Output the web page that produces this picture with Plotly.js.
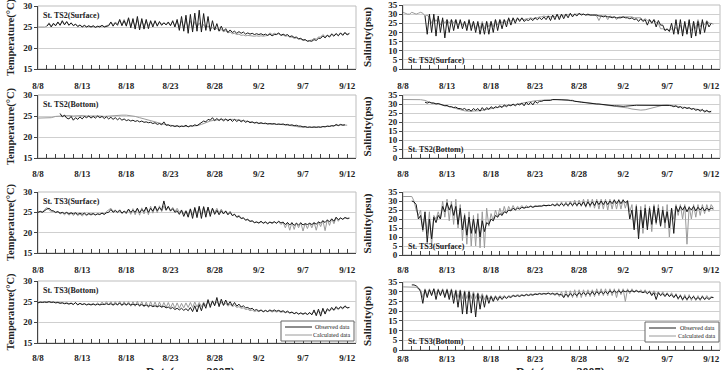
<!DOCTYPE html>
<html>
<head>
<meta charset="utf-8">
<script src="https://cdn.plot.ly/plotly-3.0.1.min.js"></script>
<style>html,body{margin:0;padding:0;background:#fff;}#chart{width:722px;height:370px;}</style>
</head>
<body>
<div id="chart"></div>
<script>
// ---------------- DATA ----------------
const panelTitles = ["St. TS2(Surface)", "St. TS2(Surface)", "St. TS2(Bottom)", "St. TS2(Bottom)",
                     "St. TS3(Surface)", "St. TS3(Surface)", "St. TS3(Bottom)", "St. TS3(Bottom)"];
const seriesNames = ["Observed data", "Calculated data"];
const xAxisTitle = "Date(year : 2007)";
const xTickDates = ["2007-08-08", "2007-09-13"];
const tempTicks = [15, 20, 25, 30];
const salTicks = [0, 5, 10, 15, 20, 25, 30, 35];

// start times of each series
const ts2SurfTempObsStart = "2007-08-09 00:00", ts2SurfTempCalStart = "2007-08-08 00:00";
const ts2SurfSalObsStart = "2007-08-10 12:00", ts2SurfSalCalStart = "2007-08-08 00:00";
const ts2BotTempObsStart = "2007-08-10 12:00", ts2BotTempCalStart = "2007-08-08 00:00";
const ts2BotSalObsStart = "2007-08-10 12:00", ts2BotSalCalStart = "2007-08-08 00:00";
const ts3SurfTempObsStart = "2007-08-08 00:00", ts3SurfTempCalStart = "2007-08-08 00:00";
const ts3SurfSalObsStart = "2007-08-09 00:00", ts3SurfSalCalStart = "2007-08-08 00:00";
const ts3BotTempObsStart = "2007-08-08 00:00", ts3BotTempCalStart = "2007-08-08 00:00";
const ts3BotSalObsStart = "2007-08-09 00:00", ts3BotSalCalStart = "2007-08-08 00:00";

// St. TS2 surface temperature (6-hourly)
const ts2SurfTempObs = [
25.2,25.8,25.0,25.9, 25.3,26.2,25.4,26.5, 25.5,26.3,25.4,26.0, 25.3,25.7,25.1,25.5,
25.0,25.4,25.0,25.3, 25.0,25.3,24.9,25.2, 25.0,25.4,25.0,25.2, 25.3,26.2,25.2,26.0,
25.4,26.8,25.3,26.5, 25.2,27.2,24.8,27.0, 24.5,27.5,24.3,27.0, 24.5,26.8,24.6,26.5,
25.0,26.5,25.2,26.3, 25.4,26.0,25.5,26.2, 25.3,26.5,25.0,26.8, 24.2,27.5,24.0,27.8,
23.5,28.0,23.8,28.3, 24.0,29.0,23.8,28.2, 24.2,27.5,24.0,26.5, 24.3,25.8,24.0,25.2,
24.0,24.6,23.7,24.3, 23.7,24.0,23.5,23.9, 23.5,23.8,23.3,23.6, 23.3,23.5,23.2,23.4,
23.2,23.4,23.1,23.3, 23.0,23.3,22.9,23.2, 23.2,23.6,23.0,23.3, 23.0,23.2,22.7,22.9,
22.5,22.6,22.2,22.3, 21.9,22.0,21.6,21.7, 21.6,22.0,21.8,22.3, 22.3,22.9,22.4,23.0,
22.6,23.3,22.8,23.4, 22.9,23.6,23.0,23.7, 23.1,23.5];
const ts2SurfTempCal = [
25.0,25.0,25.1,25.0, 25.2,26.0,25.3,25.6, 25.4,26.0,25.5,26.3, 25.6,26.2,25.5,25.9,
25.4,25.6,25.2,25.4, 25.1,25.3,25.1,25.2, 25.0,25.2,25.0,25.1, 25.1,25.3,25.1,25.3,
25.5,26.0,25.6,26.1, 25.8,26.5,25.6,26.8, 25.5,27.0,25.2,26.5, 25.0,26.8,24.8,26.5,
25.2,26.4,25.3,26.2, 25.5,26.2,25.6,26.0, 25.7,26.0,25.6,25.9, 25.5,26.2,25.3,26.3,
25.0,26.5,24.8,26.8, 24.8,26.5,24.6,26.3, 24.9,26.0,24.8,25.6, 24.7,25.3,24.5,24.9,
24.3,24.7,24.1,24.4, 23.9,24.1,23.6,23.8, 23.4,23.5,23.2,23.3, 23.0,23.1,22.9,23.0,
22.9,22.9,22.8,22.9, 22.8,22.9,22.8,22.9, 23.0,23.6,23.2,23.5, 23.3,23.4,23.0,23.1,
22.8,22.9,22.6,22.6, 22.3,22.4,22.1,22.1, 21.8,21.9,21.7,21.8, 21.9,22.3,22.1,22.6,
22.6,23.2,22.7,23.1, 22.8,23.4,23.0,23.5, 23.0,23.5,23.2,23.6, 23.3,23.4];

// St. TS2 surface salinity (6-hourly)
const ts2SurfSalObs = [
29,19,30,20, 30,18,29,20, 28,17,27,20, 27,21,27,22, 27,22,26,21, 27,21,26,20,
26,19,25,19, 26,19,26,20, 27,21,27,22, 27,23,28,24, 28,25,28,26, 28,26,27,26.5,
27.5,26.5,28,27, 28,27,28.5,27, 29,26.5,29.5,27, 30,27,30,27.5, 30,28,30.5,28.5,
30,29,30.5,29.5, 30,29.5,30,29.5, 29.5,29.5,29.5,29, 29,28.5,29,28.5, 28.5,28,28.5,28,
28,28,28.5,28, 28,27.5,28,27, 27.5,26,27.5,26, 27,24,27,25, 27,23,26.5,24,
24,21,22,20.5, 25,19,27,19, 27,18,26,19, 27,17,26,18, 26,19,27,20, 26,23,25];
const ts2SurfSalCal = [
31,30.5,30,30, 31,30.5,30,30.5, 31,30.5,29,29.5, 28,25,28,26, 28,24,27,25, 27,25,27,25,
27,24,26,24, 26,23,26,23, 26,22,25,22, 26,22,26,23, 26,23,27,24, 27,25,27,25.5,
27.5,26,27.5,26.5, 27.5,27,27.5,27, 27.5,27.5,28,27.5, 28,28,28.5,28.5, 29,28.5,29,28.5,
29,28.5,29.5,28.5, 29.5,29,30,29.5, 30,29.5,30,30, 30,30,30,29.5, 29.5,29.5,29.5,29.5,
29,26.5,29,29, 29,27,29,28.5, 28.5,27,28.5,28.5, 28.5,28.5,28.5,28.5, 28.5,28,28,28,
28,26.5,27.5,26.5, 27,25.5,27,25.5, 25,22,22,21.5, 21.5,21,22,21, 23,20,24,20,
25,20,26,21, 26,22,27,23, 26,24,26.5,25, 25,24.5];

// St. TS2 bottom temperature (obs 6-hourly, cal 12-hourly)
const ts2BotTempObs = [
25.6,24.8,25.2,24.5, 24.3,24.9,24.0,24.6, 24.2,24.8,24.3,24.9, 24.6,25.0,24.5,24.9,
24.5,25.0,24.6,24.9, 24.4,24.8,24.3,24.7, 24.2,24.6,24.1,24.5, 24.0,24.3,23.9,24.1,
23.8,24.0,23.7,23.9, 23.6,23.8,23.5,23.6, 23.4,23.5,23.2,23.4, 23.0,23.2,22.9,23.6,
22.8,22.9,22.6,22.7, 22.5,22.7,22.4,22.6, 22.5,22.8,22.4,22.7, 22.6,22.9,22.7,23.1,
23.4,23.8,23.6,24.2, 24.0,24.6,23.9,24.4, 23.9,24.4,23.8,24.3, 23.8,24.3,23.7,24.2,
23.7,24.1,23.6,24.0, 23.5,23.8,23.4,23.6, 23.3,23.5,23.2,23.4, 23.2,23.3,23.1,23.2,
23.1,23.2,23.0,23.1, 23.0,23.1,22.9,23.0, 22.8,22.9,22.7,22.8, 22.6,22.6,22.4,22.5,
22.3,22.4,22.3,22.4, 22.3,22.4,22.3,22.5, 22.4,22.6,22.5,22.7, 22.6,23.0,22.7,23.0, 22.8,22.9];
const ts2BotTempCal = [
24.5,24.5, 24.5,24.6, 24.9,25.0, 25.0,25.1, 25.0,25.1, 25.1,25.0, 25.0,25.1, 25.0,24.9,
25.0,25.1, 25.1,25.2, 25.2,25.1, 24.9,24.6, 24.3,24.0, 23.7,23.4, 23.1,22.9, 22.8,22.6,
22.6,22.5, 22.5,22.6, 22.7,23.0, 23.4,23.8, 24.0,24.1, 24.2,24.1, 24.2,24.1, 24.0,23.8,
23.6,23.4, 23.3,23.2, 23.1,23.1, 23.0,23.0, 22.9,22.8, 22.6,22.4, 22.3,22.3, 22.3,22.3,
22.4,22.5, 22.6,22.8, 22.8,22.9, 22.8];

// St. TS2 bottom salinity (obs 6-hourly, cal 12-hourly)
const ts2BotSalObs = [
31,30.5,31,30.5, 30.5,30,30.3,29.8, 29.5,29,29.2,28.5, 28.5,28,28.3,27.5, 27.5,27,27.5,26.5,
27,26,27.5,26.5, 27.5,26,28,26.5, 28,27,28.5,27.5, 28.5,28,29,28, 29.5,28.5,29.5,29,
30,29,30,29.5, 30.5,29,31,29.5, 31,29.5,31.5,30.5, 31.5,31.5,32,32, 32,32,32.5,32.5,
32.5,32.5,32.5,32.5, 32.3,32.2,32,32, 31.5,31.5,31.2,31, 30.8,30.8,30.5,30.5, 30.3,30.2,30,30,
29.8,29.7,29.5,29.5, 29.3,29.2,29,29, 28.8,28.7,28.7,28.8, 29,29.1,29.2,29.2, 29.3,29.3,29.4,29.4,
29.5,29.5,29.5,29.5, 29.5,29.5,29.6,29.5, 29.5,29.4,29.3,29.2, 29,28.5,29,28, 28.5,27.5,28.2,27.5,
28,27,27.5,26.5, 27,26,27,25.5, 26.5,25.5,26];
const ts2BotSalCal = [
32.5,32.5, 32.5,32.5, 32.4,32, 31,30.5, 30,29.5, 29,28.3, 27.5,26.8, 26.2,26, 26,26.2, 26.5,27,
27.5,28, 28.5,29, 29.3,29.5, 30,30.5, 31,31.5, 31.8,32, 32.2,32.4, 32.5,32.5, 32.4,32.2, 32,31.7,
31.3,31, 30.7,30.4, 30.1,29.8, 29.5,29.3, 29,28.7, 28.3,27.8, 27.2,26.8, 26.6,26.8, 27.5,28.3, 29,29.3,
29.5,29.3, 29,28.5, 28,27.8, 27.5,27, 26.5,26.2, 25.5];

// St. TS3 surface temperature (6-hourly)
const ts3SurfTempObs = [
25,25.2,25,25.5, 25.8,26,25.5,25.3, 25,25.2,24.8,25, 24.7,25,24.6,24.9, 24.6,24.9,24.5,24.8,
24.5,24.8,24.4,24.7, 24.5,24.7,24.4,24.6, 24.5,24.8,24.5,24.9, 25,25.7,25,25.4, 25,25.6,24.8,25.3,
24.9,25.8,25,25.5, 25,26,24.9,25.7, 25.2,26.3,25,26, 25.3,26.5,25.4,26.2, 25.5,27.8,25.6,26.5,
25.3,25.9,25,25.4, 24.5,25.5,24,25.3, 23.8,25.8,23.5,26.2, 23.7,26.5,23.5,26.4, 23.8,26.3,24,26,
24.5,25.5,24.4,25.4, 24.6,25.3,24.4,25, 24.2,24.5,23.8,24, 23.5,23.6,23.1,23.2, 22.8,22.9,22.5,22.6,
22.4,22.8,22.3,22.6, 22.2,22.6,22.4,22.7, 22.3,22.8,22.4,22.6, 22,22.5,21.9,22.4, 21.8,22.3,21.9,22.4,
21.9,22.2,22,22.3, 22,22.4,22.1,22.6, 22.4,22.9,22.5,23.1, 22.7,23.4,22.8,23.8, 23.2,23.6,23.3,23.7, 23.5,23.6];
const ts3SurfTempCal = [
25,25.3,25.1,25.8, 26.2,25.6,25.2,25.4, 24.9,25.1,24.6,24.9, 24.4,24.9,24.3,24.8, 24.2,24.7,24.2,24.6,
24.1,24.6,24.2,24.6, 24.3,24.6,24.3,24.7, 24.4,24.9,24.5,25.2, 25.5,26,25.2,25.6, 24.9,25.3,24.7,25.2,
24.6,25.7,24.5,25.9, 24.4,26,24.3,26.1, 24.6,26.3,24.4,26.5, 24.8,26.4,24.9,26.6, 25.2,26.6,25.4,26.3,
25.5,26.2,25.2,26, 25,25.6,24.6,25.5, 24.4,25.9,24.3,26, 24.6,26.2,24.5,26.3, 24.8,26.1,24.7,26,
24.9,26,24.8,25.8, 24.8,25.4,24.5,25.3, 24.2,24.6,23.9,24.3, 23.5,23.7,23.1,23.4, 22.7,22.9,22.4,22.7,
22.3,22.7,22.4,22.7, 22.3,22.6,22.2,22.6, 22.4,22.7,22,22.5, 21.2,22.5,20.6,22.6, 20.8,22.4,21.2,22.5,
20.4,22.3,21,22.4, 21.2,22.6,20.6,22.7, 21.5,23,20.5,23.2, 21.8,23.4,22.2,23.7, 22.8,23.7,23.2,23.8, 23.4,23.5];

// St. TS3 surface salinity (6-hourly)
const ts3SurfSalObs = [
30,29.5,28,20, 22,14,24,7, 20,9,21,18, 22,20,27,24, 29,25,28,22, 27,17,26,14, 22,11,21,12,
20,12,20,10, 19,13,18,17, 20,19,22,21, 23,22,24,23.5, 25,24.5,26,25, 26,25.5,26.5,26,
26.5,26.5,27,26.5, 27,27,27,27.2, 27.5,27.3,27.5,27.5, 28,27.5,28,27.5, 28.5,27.5,28.5,27.5,
29,27.5,29,27.5, 29,27.5,29.5,27, 29.5,27.5,29.5,27.5, 30,28,30,28, 30,28,30,28.5, 30.5,28.5,30.5,28.5,
30.5,29,30,20, 25,14,27,9, 25,15,26,14, 26,17,27,18, 26,16,25,18, 24,15,26,12, 27,24,27,25,
27,24,26.5,25, 27,24.5,26.5,25, 26.5,24.5,26,25, 26,25.5];
const ts3SurfSalCal = [
32.5,32.5,32.5,32.5, 32.5,30,25,22, 25,13,22,12, 24,5,22,20, 24,20,30,21, 31,19,30,17,
31,15,28,8, 23,6,24,5, 22,5,23,4, 24,4,26,16, 23,19,25,21, 26,22,27,23, 27,24.5,27.5,25,
27,26,27.5,26, 27.5,26.5,27.5,26.5, 27.5,27,27.5,27, 28,27,28,27.5, 28.5,27,29,27, 29.5,27,29.5,27,
30,27,30.5,27, 30.5,27,31,26.5, 31,26.5,31,26, 31,25.5,31,25.5, 31,25,31,25.5, 31,25.5,31,25.5,
31,26,30.5,24, 28,15,28,12, 27,12,28,16, 27,13,28,17, 28,16,27,15, 28,10,26,20, 28,22,28,20,
28,6,27,20, 28,21,28,22, 28,23,28,24, 28,26];

// St. TS3 bottom temperature (6-hourly)
const ts3BotTempObs = [
24.7,24.9,24.8,24.9, 24.8,25,24.8,24.9, 24.7,24.8,24.6,24.7, 24.5,24.6,24.4,24.6, 24.3,24.8,24.2,24.6,
24.3,24.5,24.2,24.4, 24.2,24.4,24.2,24.4, 24.2,24.4,24.3,24.5, 24.3,24.5,24.2,24.5, 24.3,24.6,24.2,24.5,
24.3,24.5,24.2,24.4, 24.2,24.4,24.1,24.3, 24,24.2,23.9,24.1, 23.8,24,23.8,24, 23.7,23.9,23.5,23.7,
23.3,23.6,23.1,23.4, 23,23.4,22.9,23.3, 22.8,23.6,22.6,24, 22.5,24.3,22.8,24.6, 23.4,25.5,23.6,25.2,
24,26,23.8,25.6, 24.1,25.4,24.2,25, 24,24.8,23.9,24.4, 23.7,24,23.5,23.6, 23.2,23.4,22.9,23.1,
22.7,23,22.6,22.9, 22.6,23,22.7,23, 22.7,22.9,22.6,22.8, 22.4,22.7,22.3,22.5, 22.1,22.4,22,22.3,
22,22.3,21.9,22.4, 21.8,23,21.6,23.2, 21.5,23.4,22,23.3, 22.8,23.6,23,23.8, 23.2,23.8,23.4,24, 23.5,23.6];
const ts3BotTempCal = [
24.8,24.9,24.9,25, 25,25,24.9,24.9, 24.8,24.9,24.7,24.8, 24.6,24.8,24.5,24.7, 24.4,24.7,24.3,24.6,
24.3,24.5,24.3,24.5, 24.3,24.6,24.2,24.7, 24.2,24.9,24.3,25, 24.2,25,24.1,25, 24.1,25.1,24,25,
24,25,23.9,25, 23.9,25.1,23.8,25, 23.7,24.9,23.6,25, 23.7,24.9,23.6,24.9, 23.6,24.8,23.6,24.8,
23.5,24.7,23.4,24.7, 23.4,24.6,23.5,24.7, 23.6,24.8,23.6,24.9, 23.7,24.8,23.8,24.9, 24,25,24.1,25.1,
24.2,25,24.2,24.9, 24.1,24.7,23.9,24.4, 23.8,24.1,23.6,23.8, 23.4,23.5,23.1,23.2, 22.8,23,22.6,22.8,
22.6,22.9,22.5,22.8, 22.6,22.8,22.5,22.7, 22.5,22.7,22.4,22.6, 22.3,22.5,22.2,22.4, 22.1,22.3,22,22.2,
21.9,22.2,21.9,22.2, 22,22.5,22.1,22.6, 22.3,22.9,22.4,23, 22.7,23.3,22.8,23.5, 23.1,23.6,23.2,23.8, 23.5,23.6];

// St. TS3 bottom salinity (6-hourly)
const ts3BotSalObs = [
33.5,33.5,33,32, 30,24,31,27, 31,28,31.5,26, 31,28,31,27, 31,26,31,24, 30.5,22,30.5,18.5,
30,18.5,30,19, 29,17,29,21, 28,22,28,24, 27.5,25,27.5,25.5, 27.5,26,27.5,26.5, 27.5,27,28,27.5,
28,27.5,28.3,27.8, 28.5,28,28.5,28.2, 28.8,28.5,29,28.7, 29,28.8,29.2,28.8, 29,28.7,29,28.5,
28.5,27,28.8,27.5, 29,28,29,28, 29.5,28.5,29.5,28.5, 29.5,28.5,30,28.5, 30,29,30,29, 30,29,30.5,29.5,
30.5,29.5,30.5,29.5, 30.5,30,30.5,30, 30.5,30,30.5,30, 30,29.5,30,29, 30,28,29.5,26, 29.5,28,29,27.5,
29,27.5,28.5,27, 28.5,26.5,28,26, 27.5,26,27.5,26.5, 27.5,26,27,26, 27.5,26,27,26, 27,27];
const ts3BotSalCal = [
32.5,32.5,32.5,32.5, 32.5,32.5,32.3,31.5, 31,27,31.5,28, 31.5,28.5,31.5,28.5, 31.5,28.5,31.5,28,
31.5,27.5,31.5,27, 31,27,31,26.5, 30.5,26.5,30.5,26.5, 30,26.5,29.5,26.5, 29,26,28.5,26, 28,26,28,26.5,
28,27,28,27, 28,27.5,28.3,27.8, 28.5,28,28.5,28, 28.8,28.3,29,28.5, 29,28.8,29.2,28.8, 29.2,28.8,29.5,28.5,
29.5,28,29.5,27.5, 30,27,30.5,27, 30.5,27,31,27, 31,27,31,27.5, 31,27.5,31,27.5, 31.5,28,31.5,28,
31.5,28,31.5,28, 31.5,27,31.5,28.5, 31.5,25,31.5,29, 31.5,29.5,31,29.5, 31,29.5,31,29, 30.5,28.5,30.5,28.5,
30,28,30,28, 29.5,27.5,29.5,27, 29,26,28.5,25.5, 28.5,25.5,28.5,25.5, 28,25.5,28,25.5, 28,26,28,26.5, 27.5,27];

// ---------------- CHART ----------------
const H6 = 6 * 3600 * 1000, H12 = 12 * 3600 * 1000;
const OBS = '#1a1a1a', CAL = '#9a9a9a';
const FONT = 'Liberation Serif, Times New Roman, serif';

const W = 722, HH = 370;
const colX = [[38, 356], [403, 720]];
const rowsY = [[[6, 69], [5, 69]], [[95, 158], [95, 158]], [[192, 253], [192, 255]], [[281, 343], [282, 350]]];
// distance of the date tick labels below each panel's axis line
const labelStandoff = [8, 8, 7, 7, 8, 6, 6, 0];
// small in-plot legend boxes (left, top, right, bottom) for the bottom row
const legendBoxes = [[281, 321, 354, 341], [645, 322, 719, 342]];
// centre x of the date titles under the bottom row, and their top y
const dateTitleX = [190, 560], dateTitleTop = 363;

const panels = [
  {obs: ts2SurfTempObs, o0: ts2SurfTempObsStart, odx: H6, cal: ts2SurfTempCal, c0: ts2SurfTempCalStart, cdx: H6},
  {obs: ts2SurfSalObs, o0: ts2SurfSalObsStart, odx: H6, cal: ts2SurfSalCal, c0: ts2SurfSalCalStart, cdx: H6},
  {obs: ts2BotTempObs, o0: ts2BotTempObsStart, odx: H6, cal: ts2BotTempCal, c0: ts2BotTempCalStart, cdx: H12},
  {obs: ts2BotSalObs, o0: ts2BotSalObsStart, odx: H6, cal: ts2BotSalCal, c0: ts2BotSalCalStart, cdx: H12},
  {obs: ts3SurfTempObs, o0: ts3SurfTempObsStart, odx: H6, cal: ts3SurfTempCal, c0: ts3SurfTempCalStart, cdx: H6},
  {obs: ts3SurfSalObs, o0: ts3SurfSalObsStart, odx: H6, cal: ts3SurfSalCal, c0: ts3SurfSalCalStart, cdx: H6},
  {obs: ts3BotTempObs, o0: ts3BotTempObsStart, odx: H6, cal: ts3BotTempCal, c0: ts3BotTempCalStart, cdx: H6},
  {obs: ts3BotSalObs, o0: ts3BotSalObsStart, odx: H6, cal: ts3BotSalCal, c0: ts3BotSalCalStart, cdx: H6},
];

const data = [];
const layout = {
  width: W, height: HH,
  margin: {l: 0, r: 0, t: 0, b: 0},
  paper_bgcolor: '#fff', plot_bgcolor: '#fff',
  font: {family: FONT, color: '#222', size: 9},
  showlegend: false,
  annotations: [], shapes: []
};

panels.forEach((p, i) => {
  const row = Math.floor(i / 2), col = i % 2;
  const n = i + 1;
  const xk = n === 1 ? 'xaxis' : 'xaxis' + n, yk = n === 1 ? 'yaxis' : 'yaxis' + n;
  const xr = n === 1 ? 'x' : 'x' + n, yr = n === 1 ? 'y' : 'y' + n;
  const [top, bot] = rowsY[row][col];
  const [lft, rgt] = colX[col];
  const isTemp = col === 0;

  data.push({type: 'scatter', mode: 'lines', name: seriesNames[1], x0: p.c0, dx: p.cdx, y: p.cal,
    xaxis: xr, yaxis: yr, line: {color: CAL, width: 1}});
  data.push({type: 'scatter', mode: 'lines', name: seriesNames[0], x0: p.o0, dx: p.odx, y: p.obs,
    xaxis: xr, yaxis: yr, line: {color: OBS, width: 1}});

  layout[xk] = {
    type: 'date', domain: [lft / W, rgt / W], anchor: yr,
    range: xTickDates, tick0: '2007-08-08', dtick: 5 * 86400000, tickformat: '%-m/%-d',
    ticks: 'inside', ticklen: 4, tickcolor: '#444', tickwidth: 1,
    minor: {dtick: 86400000, ticks: 'inside', ticklen: 4, tickcolor: '#444', showgrid: false},
    ticklabelstandoff: labelStandoff[i],
    showline: true, linecolor: '#444', linewidth: 1, showgrid: false, zeroline: false,
    tickfont: {family: FONT, size: 9, weight: 'bold', color: '#222'},
    automargin: false
  };
  layout[yk] = {
    domain: [1 - bot / HH, 1 - top / HH], anchor: xr,
    range: isTemp ? [15, 30] : [0, 35], tickvals: isTemp ? tempTicks : salTicks,
    ticks: 'outside', ticklen: 3, tickcolor: '#444',
    showline: true, linecolor: '#444', linewidth: 1,
    showgrid: true, gridcolor: '#cfcfcf', gridwidth: 1, zeroline: false,
    tickfont: {family: FONT, size: 9, weight: 'bold', color: '#222'},
    title: {text: isTemp ? 'Temperature(°C)' : 'Salinity(psu)',
            font: {family: FONT, size: isTemp ? 10.5 : 11, weight: 'bold', color: '#222'}, standoff: isTemp ? 6 : 14},
    automargin: false
  };
  layout.shapes.push({type: 'rect', xref: 'paper', yref: 'paper', x0: lft / W, x1: rgt / W, y0: 1 - bot / HH, y1: 1 - top / HH,
    line: {color: '#bdbdbd', width: 1}, layer: 'below'});
  layout.annotations.push({
    text: panelTitles[i], xref: 'paper', yref: 'paper', x: (lft + 3) / W,
    y: isTemp ? 1 - (top + 3) / HH : 1 - (bot - 2) / HH,
    xanchor: 'left', yanchor: isTemp ? 'top' : 'bottom', showarrow: false,
    font: {family: FONT, size: 8, weight: 'bold', color: '#222'}
  });
});

// date titles under the bottom row (partly cut by the lower edge, as in the source figure)
dateTitleX.forEach(cx => {
  layout.annotations.push({text: xAxisTitle, xref: 'paper', yref: 'paper', x: cx / W, y: 1 - dateTitleTop / HH,
    xanchor: 'center', yanchor: 'top', showarrow: false,
    font: {family: FONT, size: 12, weight: 'bold', color: '#222'}});
});

// compact legend boxes drawn in the bottom-row panels
legendBoxes.forEach(([l, t, r, b]) => {
  layout.shapes.push({type: 'rect', xref: 'paper', yref: 'paper', x0: l / W, x1: r / W, y0: 1 - b / HH, y1: 1 - t / HH,
    line: {color: '#666', width: 1}, fillcolor: '#fff', layer: 'above'});
  [[OBS, seriesNames[0], t + 6], [CAL, seriesNames[1], t + 14]].forEach(([c, label, yy]) => {
    layout.shapes.push({type: 'line', xref: 'paper', yref: 'paper', x0: (l + 4) / W, x1: (l + 31) / W,
      y0: 1 - yy / HH, y1: 1 - yy / HH, line: {color: c, width: 1}, layer: 'above'});
    layout.annotations.push({text: label, xref: 'paper', yref: 'paper', x: (r - 2) / W, y: 1 - yy / HH,
      xanchor: 'right', yanchor: 'middle', showarrow: false,
      font: {family: FONT, size: 6, color: '#222'}});
  });
});

Plotly.newPlot('chart', data, layout, {displayModeBar: false, staticPlot: true});
</script>
</body>
</html>
